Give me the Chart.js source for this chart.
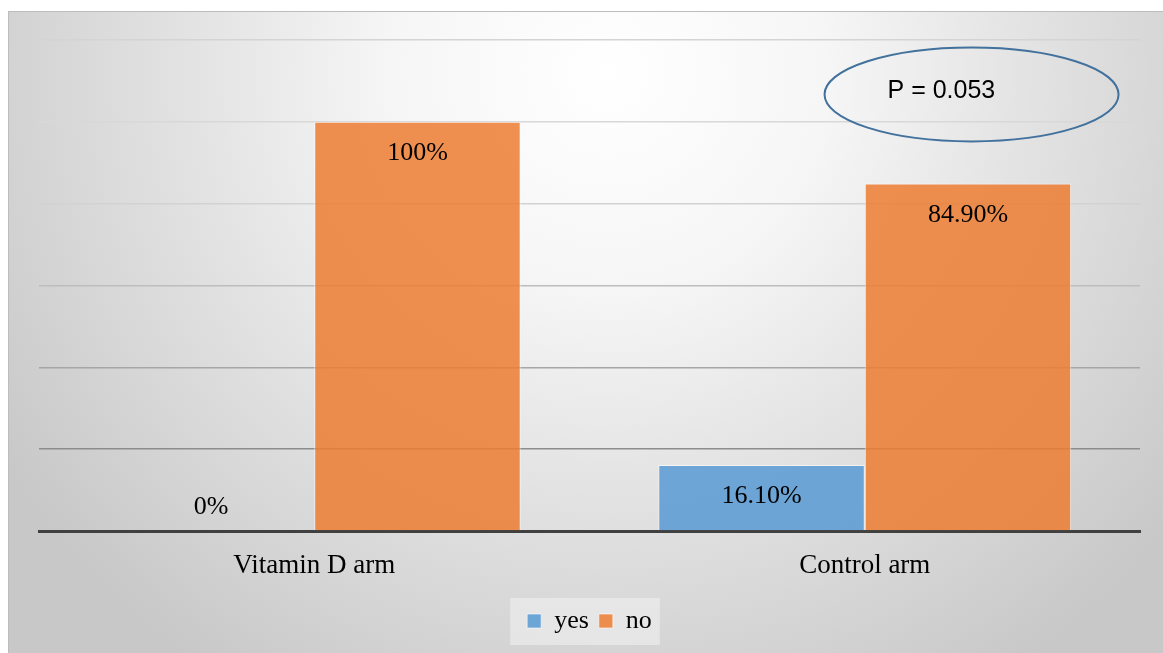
<!DOCTYPE html>
<html>
<head>
<meta charset="utf-8">
<script src="https://cdn.jsdelivr.net/npm/chart.js@4"></script>
<style>
  html, body { margin: 0; padding: 0; background: #ffffff; overflow: hidden; }
  #frame { position: absolute; left: 8px; top: 11px; width: 1154px; height: 641px; border: 1px solid #bdbdbd; }
</style>
</head>
<body>
<div id="frame"><canvas id="myChart" width="1154" height="641"></canvas></div>
<script>
// dati del grafico
var categories = ['Vitamin D arm', 'Control arm'];
var yesValues = [0, 16.1];
var noValues = [100, 84.9];
var seriesNames = ['yes', 'no'];
var yTicks = [0, 20, 40, 60, 80, 100, 120];
var pLabel = 'P = 0.053';

var gridColors = { 20: '#8c8c8c', 40: '#a6a6a6', 60: '#bdbdbd', 80: '#d2d2d2', 100: '#d8d8d8', 120: '#d4d4d4' };

function fmt(v) {
  return Number.isInteger(v) ? v + '%' : v.toFixed(2) + '%';
}

// sfondo sfumato + riquadro legenda
var sfondo = {
  id: 'sfondo',
  beforeDraw: function (chart) {
    var c = chart.ctx;
    var g = c.createRadialGradient(600, 60, 0, 600, 60, 720);
    g.addColorStop(0, '#ffffff');
    g.addColorStop(0.3, '#f6f6f6');
    g.addColorStop(0.55, '#e5e5e5');
    g.addColorStop(0.8, '#d5d5d5');
    g.addColorStop(1, '#c8c8c8');
    c.save();
    c.fillStyle = g;
    c.fillRect(0, 0, chart.width, chart.height);
    var lg = chart.legend;
    if (lg && lg.legendHitBoxes.length) {
      var hb = lg.legendHitBoxes;
      var l = hb[0].left - 17, r = hb[hb.length - 1].left + hb[hb.length - 1].width + 8;
      c.fillStyle = 'rgba(240,240,240,0.6)';
      c.fillRect(l, lg.top, r - l, 47);
    }
    c.restore();
  }
};

// etichette dei valori + ellisse
var etichette = {
  id: 'etichette',
  afterDatasetsDraw: function (chart) {
    var c = chart.ctx;
    var base = chart.scales.y.getPixelForValue(0);
    c.save();
    c.font = '26px "Liberation Serif", "Times New Roman", serif';
    c.fillStyle = '#000000';
    c.textAlign = 'center';
    c.textBaseline = 'alphabetic';
    chart.data.datasets.forEach(function (ds, i) {
      chart.getDatasetMeta(i).data.forEach(function (bar, j) {
        var y = Math.min(bar.y + 38, base - 17);
        c.fillText(fmt(ds.data[j]), bar.x, y);
      });
    });
    var a = chart.chartArea;
    var cx = a.left + (a.right - a.left) * 0.847;
    var cy = chart.scales.y.getPixelForValue(106.7);
    c.beginPath();
    c.ellipse(cx, cy, 147, 47, 0, 0, Math.PI * 2);
    c.strokeStyle = '#41719c';
    c.lineWidth = 2;
    c.stroke();
    c.font = '25px "Liberation Sans", Arial, sans-serif';
    c.textAlign = 'left';
    c.fillText(pLabel, cx - 84, cy + 4);
    c.restore();
  }
};

var ctx = document.getElementById('myChart').getContext('2d');
var myChart = new Chart(ctx, {
  type: 'bar',
  data: {
    labels: categories,
    datasets: [{
      label: seriesNames[0],
      data: yesValues,
      backgroundColor: 'rgba(91,155,213,0.87)',
      borderColor: 'rgba(255,255,255,0.6)',
      borderWidth: 1
    }, {
      label: seriesNames[1],
      data: noValues,
      backgroundColor: 'rgba(237,125,49,0.85)',
      borderColor: 'rgba(255,255,255,0.6)',
      borderWidth: 1
    }]
  },
  options: {
    responsive: false,
    animation: false,
    layout: { padding: { left: 30, right: 23, top: 28, bottom: 9 } },
    datasets: { bar: { categoryPercentage: 0.75, barPercentage: 1.0 } },
    scales: {
      x: {
        grid: { display: false, drawTicks: false },
        border: { display: true, color: '#404040', width: 3 },
        ticks: { color: '#000000', padding: 19, font: { family: '"Liberation Serif", "Times New Roman", serif', size: 27 } },
        afterFit: function (s) { s.height = 67; }
      },
      y: {
        min: 0,
        max: 120,
        afterBuildTicks: function (s) { s.ticks = yTicks.map(function (v) { return { value: v }; }); },
        ticks: { display: false },
        border: { display: false },
        grid: {
          drawTicks: false,
          lineWidth: 1.5,
          color: function (c) { return gridColors[c.tick.value] || 'rgba(0,0,0,0)'; }
        },
        afterFit: function (s) { s.width = 0; }
      }
    },
    plugins: {
      tooltip: { enabled: false },
      legend: {
        position: 'bottom',
        labels: {
          boxWidth: 14,
          boxHeight: 14,
          padding: 10,
          color: '#000000',
          font: { family: '"Liberation Serif", "Times New Roman", serif', size: 26 }
        }
      }
    }
  },
  plugins: [sfondo, etichette]
});
</script>
</body>
</html>
